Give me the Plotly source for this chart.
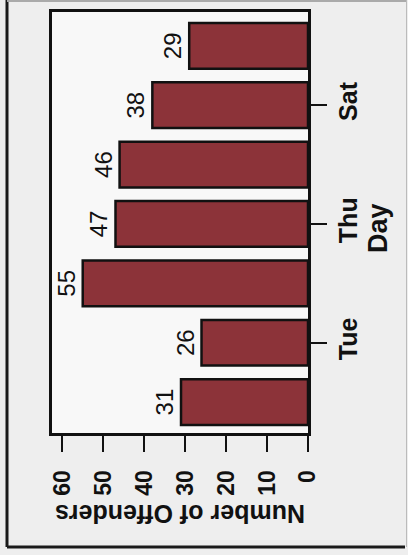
import plotly.graph_objects as go

days = ["Mon", "Tue", "Wed", "Thu", "Fri", "Sat", "Sun"]
offenders = [31, 26, 55, 47, 46, 38, 29]
value_ticks = [0, 10, 20, 30, 40, 50, 60]
day_ticks = ["Tue", "Thu", "Sat"]

BAR = "#8c3339"
FONT = "Liberation Sans, Arial, sans-serif"

fig = go.Figure(go.Bar(
    y=days, x=offenders, orientation="h",
    width=0.77,
    marker=dict(color=BAR, line=dict(color="#111111", width=2.5)),
    text=[str(v) for v in offenders], textposition="outside",
    textangle=-90, constraintext="none", cliponaxis=False,
    textfont=dict(size=24, color="#111111", family=FONT),
    hoverinfo="skip",
))

L, R, T, B = 52, 100, 12, 122
W, H = 408, 555
pw, ph = W - L - R, H - T - B

def px(x):
    return (x - L) / pw

def py(y):
    return (H - B - y) / ph

fig.update_layout(
    width=W, height=H,
    margin=dict(l=L, r=R, t=T, b=B, pad=0, autoexpand=False),
    paper_bgcolor="#eeeeee", plot_bgcolor="#f8f8f8",
    showlegend=False,
    font=dict(family=FONT, color="#111111"),
    xaxis=dict(
        range=[62.5, 0], tickvals=value_ticks,
        ticktext=[str(v) for v in value_ticks],
        tickangle=-90, tickfont=dict(size=23, weight="bold"),
        ticks="outside", ticklen=16, tickwidth=2, tickcolor="#111111",
        ticklabelstandoff=9, automargin=False,
        showgrid=False, zeroline=False,
        showline=True, mirror=True, linecolor="#111111", linewidth=3,
    ),
    yaxis=dict(
        categoryorder="array", categoryarray=days,
        range=[-0.52, 6.57], side="right",
        tickvals=day_ticks, ticktext=day_ticks,
        tickangle=-90, tickfont=dict(size=25, weight="bold"),
        ticks="outside", ticklen=16, tickwidth=2, tickcolor="#111111",
        ticklabelstandoff=0, automargin=False,
        showgrid=False, zeroline=False,
        showline=True, mirror=True, linecolor="#111111", linewidth=3,
    ),
    annotations=[
        dict(text="Number of Offenders", xref="paper", yref="paper",
             x=px(180), y=py(514), showarrow=False, textangle=180,
             xanchor="center", yanchor="middle",
             font=dict(size=25, family=FONT, color="#111111", weight="bold")),
        dict(text="Day", xref="paper", yref="paper",
             x=px(378), y=py(228), showarrow=False, textangle=-90,
             xanchor="center", yanchor="middle",
             font=dict(size=27, family=FONT, color="#111111", weight="bold")),
    ],
    shapes=[
        dict(type="line", xref="paper", yref="paper",
             x0=px(7), x1=px(7), y0=py(0), y1=py(547),
             line=dict(color="#1a1a1a", width=3)),
        dict(type="line", xref="paper", yref="paper",
             x0=px(7), x1=px(405), y0=py(547), y1=py(547),
             line=dict(color="#1a1a1a", width=3)),
        dict(type="line", xref="paper", yref="paper",
             x0=px(406.5), x1=px(406.5), y0=py(0), y1=py(547),
             line=dict(color="#bbbbbb", width=1)),
        dict(type="line", xref="paper", yref="paper",
             x0=px(7), x1=px(406), y0=py(1), y1=py(1),
             line=dict(color="#aaaaaa", width=2)),
    ],
)

fig.write_html(
    "out.html",
    config={"displayModeBar": False},
    post_script="document.body.style.margin='0';document.body.style.background='#eeeeee';",
)
